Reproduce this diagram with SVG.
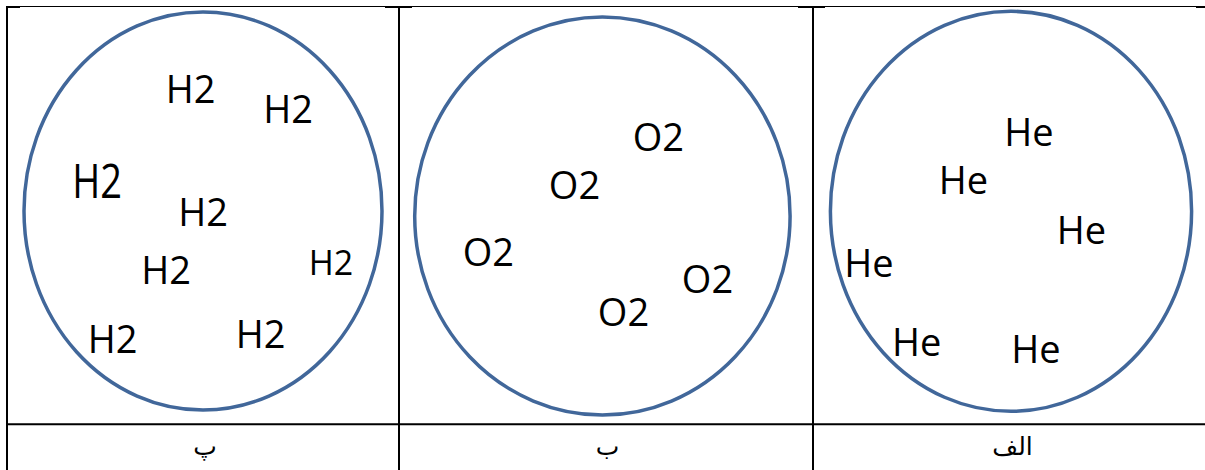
<svg xmlns="http://www.w3.org/2000/svg" width="1205" height="470" viewBox="0 0 1205 470">
<style>
.bg{fill:#ffffff}
.grid{stroke:#000000;stroke-width:2;fill:none}
.thin{stroke:#000000;stroke-width:1;fill:none}
.stub{fill:#000000}
.vessel{fill:none;stroke:#41679a;stroke-width:3.5}
.gas{font-family:"Open Sans","Liberation Sans",sans-serif;font-size:38px;fill:#000000;text-anchor:middle}
.lbl{font-family:"DejaVu Sans","Liberation Serif",serif;font-size:25px;fill:#000000;text-anchor:middle}
</style>
<rect class="bg" x="0" y="0" width="1205" height="470"/>
<g id="table">
<line class="thin" x1="7" y1="6.5" x2="1205" y2="6.5"/>
<rect class="stub" x="7" y="6" width="13" height="2"/>
<rect class="stub" x="385" y="6" width="27" height="2"/>
<rect class="stub" x="798" y="6" width="27" height="2"/>
<rect class="stub" x="1196" y="6" width="9" height="2"/>
<line class="grid" x1="7" y1="6" x2="7" y2="470"/>
<line class="grid" x1="399" y1="6" x2="399" y2="470"/>
<line class="grid" x1="813" y1="6" x2="813" y2="470"/>
<line class="grid" x1="6" y1="424.3" x2="1205" y2="424.3"/>
</g>
<g id="vessel-p">
<ellipse class="vessel" cx="203" cy="211" rx="179" ry="199"/>
<text class="gas" x="190.5" y="103">H2</text>
<text class="gas" x="288" y="123">H2</text>
<text class="gas" transform="translate(97 198) scale(1 1.25)" x="0" y="0">H2</text>
<text class="gas" x="203" y="225.7">H2</text>
<text class="gas" x="166" y="284">H2</text>
<text class="gas" x="331" y="275" style="font-size:34px">H2</text>
<text class="gas" x="112.5" y="353">H2</text>
<text class="gas" x="260.5" y="348">H2</text>
</g>
<g id="vessel-b">
<ellipse class="vessel" cx="602.4" cy="216" rx="187.7" ry="199"/>
<text class="gas" x="658.3" y="151">O2</text>
<text class="gas" x="574.5" y="199">O2</text>
<text class="gas" x="488.3" y="265.5">O2</text>
<text class="gas" x="707.5" y="293">O2</text>
<text class="gas" x="623.5" y="326">O2</text>
</g>
<g id="vessel-alef">
<ellipse class="vessel" cx="1011" cy="211.3" rx="180.6" ry="200"/>
<text class="gas" x="1029" y="146">He</text>
<text class="gas" x="963.5" y="194">He</text>
<text class="gas" x="1081.5" y="244">He</text>
<text class="gas" x="869" y="277">He</text>
<text class="gas" x="916.7" y="356">He</text>
<text class="gas" x="1036" y="363">He</text>
</g>
<g id="labels">
<text class="lbl" x="205" y="455">پ</text>
<text class="lbl" x="607.5" y="455">ب</text>
<text class="lbl" x="1012.5" y="455">الف</text>
</g>
</svg>
